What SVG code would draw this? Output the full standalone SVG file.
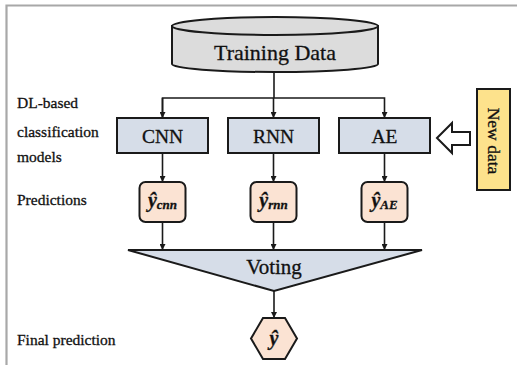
<svg xmlns="http://www.w3.org/2000/svg" width="517" height="365" viewBox="0 0 517 365">
<defs>
<style>
.t{font-family:"Liberation Serif","Times New Roman",serif;fill:#111;stroke:#111;stroke-width:0.3}
.lab{font-size:15.5px}
.box{fill:#d6dde8;stroke:#1a1a1a;stroke-width:2}
.pred{fill:#fbe3d3;stroke:#1a1a1a;stroke-width:2}
.ln{fill:none;stroke:#1a1a1a;stroke-width:1.6}
.yh{font-size:20px;font-weight:bold;font-style:italic}
.sub{font-size:13px;font-weight:bold;font-style:italic}
</style>
<marker id="ah" viewBox="0 0 10 10" refX="10" refY="5" markerWidth="6" markerHeight="6" markerUnits="userSpaceOnUse" orient="auto">
<path d="M0,0 L10,5 L0,10 z" fill="#1a1a1a"/>
</marker>
</defs>
<rect width="517" height="365" fill="#fff"/>
<path d="M6.5,365 V5.5 H517" fill="none" stroke="#a8a8a8" stroke-width="2.2"/>

<g id="labels">
<text class="t lab" x="17" y="108">DL-based</text>
<text class="t lab" x="17" y="137">classification</text>
<text class="t lab" x="17" y="162">models</text>
<text class="t lab" x="17" y="205">Predictions</text>
<text class="t lab" x="17" y="345">Final prediction</text>
</g>

<g id="connectors">
<line class="ln" x1="274" y1="72" x2="274" y2="98"/>
<polyline class="ln" points="162.5,118 162.5,98 384.5,98 384.5,118" marker-end="url(#ah)"/>
<line class="ln" x1="162.5" y1="98" x2="162.5" y2="118" marker-end="url(#ah)"/>
<line class="ln" x1="273.5" y1="98" x2="273.5" y2="118" marker-end="url(#ah)"/>
<line class="ln" x1="162.5" y1="153" x2="162.5" y2="182" marker-end="url(#ah)"/>
<line class="ln" x1="273.5" y1="153" x2="273.5" y2="182" marker-end="url(#ah)"/>
<line class="ln" x1="384.5" y1="153" x2="384.5" y2="182" marker-end="url(#ah)"/>
<line class="ln" x1="162.5" y1="222" x2="162.5" y2="250" marker-end="url(#ah)"/>
<line class="ln" x1="273.5" y1="222" x2="273.5" y2="250" marker-end="url(#ah)"/>
<line class="ln" x1="384.5" y1="222" x2="384.5" y2="250" marker-end="url(#ah)"/>
<line class="ln" x1="274" y1="291" x2="274" y2="318" marker-end="url(#ah)"/>
<path d="M437,138 L452,123 L452,132 L470,132 L470,145 L452,145 L452,153 Z" fill="#fff" stroke="#1a1a1a" stroke-width="2" stroke-linejoin="miter"/>
</g>

<g id="training-data">
<path d="M172,26 L172,64 A103,8 0 0 0 378,64 L378,26 Z" fill="#dcdcdc" stroke="#1a1a1a" stroke-width="2"/>
<ellipse cx="275" cy="26" rx="103" ry="9" fill="#dcdcdc" stroke="#1a1a1a" stroke-width="2"/>
<text class="t" x="275" y="60" font-size="22" text-anchor="middle">Training Data</text>
</g>

<g id="cnn">
<rect class="box" x="117" y="118" width="91" height="35"/>
<text class="t" x="162.5" y="143" font-size="19.5" text-anchor="middle">CNN</text>
</g>
<g id="rnn">
<rect class="box" x="228" y="118" width="91" height="35"/>
<text class="t" x="273.5" y="143" font-size="19.5" text-anchor="middle">RNN</text>
</g>
<g id="ae">
<rect class="box" x="339" y="118" width="91" height="35"/>
<text class="t" x="384.5" y="143" font-size="19.5" text-anchor="middle">AE</text>
</g>

<g id="new-data">
<rect x="477" y="89" width="33" height="101" fill="#fde28c" stroke="#1a1a1a" stroke-width="2"/>
<text class="t" transform="translate(488,141) rotate(90)" font-size="17.5" text-anchor="middle">New data</text>
</g>

<g id="pred-cnn">
<rect class="pred" x="139.5" y="182" width="46" height="40" rx="6"/>
<text class="t" x="162.5" y="207" text-anchor="middle"><tspan class="yh">ŷ</tspan><tspan class="sub" dy="2">cnn</tspan></text>
</g>
<g id="pred-rnn">
<rect class="pred" x="250.5" y="182" width="46" height="40" rx="6"/>
<text class="t" x="273.5" y="207" text-anchor="middle"><tspan class="yh">ŷ</tspan><tspan class="sub" dy="2">rnn</tspan></text>
</g>
<g id="pred-ae">
<rect class="pred" x="361.5" y="182" width="46" height="40" rx="6"/>
<text class="t" x="384.5" y="207" text-anchor="middle"><tspan class="yh">ŷ</tspan><tspan class="sub" dy="2">AE</tspan></text>
</g>

<g id="voting">
<polygon points="128,250 422,250 274,291" fill="#d6dde8" stroke="#1a1a1a" stroke-width="2" stroke-linejoin="miter"/>
<text class="t" x="274" y="274" font-size="21" text-anchor="middle">Voting</text>
</g>

<g id="final">
<polygon class="pred" points="263,318 285,318 297,338.5 285,359 263,359 251,338.5"/>
<text class="t yh" x="274" y="345" text-anchor="middle" font-size="18">ŷ</text>
</g>
</svg>
